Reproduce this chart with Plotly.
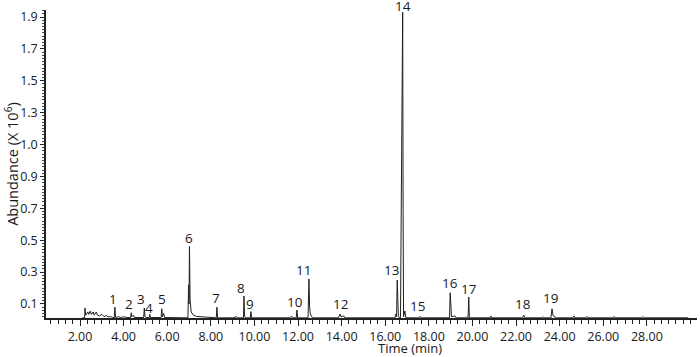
import plotly.graph_objects as go

# Chromatogram trace (time in min, abundance x10^6)
time = [2.10, 2.21, 2.23, 2.26, 2.36, 2.40, 2.47, 2.52, 2.60, 2.65, 2.75, 2.80, 2.90, 3.00, 3.10, 3.20, 3.30, 3.40, 3.50,
        3.57, 3.60, 3.63, 3.75, 3.85, 4.00, 4.15,
        4.32, 4.35, 4.38, 4.45, 4.50,
        4.92, 4.95, 4.98, 5.05,
        5.18, 5.20, 5.23,
        5.72, 5.75, 5.78, 5.84, 5.88, 6.30,
        6.95, 6.98, 7.00, 7.02, 7.05, 7.10, 7.20, 7.35, 7.50, 7.65, 7.80, 8.00,
        8.25, 8.28, 8.31,
        9.00, 9.20, 9.25,
        9.50, 9.52, 9.55, 9.60,
        9.81, 9.84, 9.87,
        11.60, 11.72, 11.76,
        11.92, 11.95, 11.98,
        12.46, 12.50, 12.53, 12.56, 12.62, 12.70,
        13.85, 13.90, 13.93, 13.97, 14.10, 14.15,
        16.45, 16.48, 16.52, 16.55, 16.57, 16.60, 16.64,
        16.70, 16.72, 16.80, 16.82, 16.84, 16.90, 16.92, 16.95,
        17.55, 17.60, 17.65,
        18.95, 18.98, 19.01, 19.04, 19.20, 19.25,
        19.70, 19.75, 19.80, 19.83, 19.86,
        20.80, 20.84, 20.88,
        22.30, 22.35, 22.40,
        23.20, 23.25, 23.30,
        23.60, 23.65, 23.70, 23.80, 23.85,
        24.60, 24.66, 24.70,
        25.20, 25.25, 25.30,
        26.45, 26.50, 26.55,
        27.75, 27.80, 27.90,
        29.90]
abundance = [0.013, 0.013, 0.075, 0.030, 0.050, 0.035, 0.055, 0.035, 0.050, 0.030, 0.050, 0.030, 0.025, 0.035, 0.020, 0.028, 0.018, 0.022, 0.015,
             0.015, 0.080, 0.015, 0.020, 0.015, 0.020, 0.015,
             0.015, 0.045, 0.020, 0.030, 0.015,
             0.015, 0.075, 0.020, 0.015,
             0.015, 0.035, 0.015,
             0.015, 0.070, 0.020, 0.040, 0.015, 0.013,
             0.013, 0.220, 0.100, 0.460, 0.120, 0.050, 0.030, 0.022, 0.020, 0.018, 0.015, 0.013,
             0.013, 0.080, 0.013,
             0.013, 0.020, 0.013,
             0.013, 0.150, 0.020, 0.013,
             0.013, 0.052, 0.013,
             0.013, 0.022, 0.013,
             0.013, 0.062, 0.013,
             0.013, 0.257, 0.085, 0.040, 0.020, 0.013,
             0.013, 0.030, 0.037, 0.020, 0.025, 0.013,
             0.013, 0.035, 0.020, 0.250, 0.146, 0.030, 0.013,
             0.013, 0.420, 1.930, 0.700, 0.020, 0.056, 0.013, 0.013,
             0.013, 0.022, 0.013,
             0.013, 0.170, 0.060, 0.020, 0.025, 0.013,
             0.013, 0.020, 0.013, 0.144, 0.013,
             0.013, 0.025, 0.013,
             0.013, 0.030, 0.013,
             0.013, 0.020, 0.013,
             0.013, 0.070, 0.025, 0.020, 0.013,
             0.013, 0.025, 0.013,
             0.013, 0.022, 0.013,
             0.013, 0.022, 0.013,
             0.013, 0.020, 0.013,
             0.013]

# Peak labels (label 14 sits just above the apex)
peak_labels = [str(i) for i in range(1, 20)]
peak_label_x = [3.51, 4.25, 4.80, 5.17, 5.76, 7.00, 8.24, 9.39, 9.80, 11.86, 12.27, 13.93, 16.30, 16.82, 17.50, 18.97, 19.84, 22.30, 23.60]
peak_label_y = [0.131, 0.100, 0.131, 0.075, 0.131, 0.514, 0.138, 0.200, 0.100, 0.115, 0.313, 0.100, 0.313, 1.930, 0.087, 0.234, 0.194, 0.100, 0.138]

# Axis ticks
x_tickvals = [2, 4, 6, 8, 10, 12, 14, 16, 18, 20, 22, 24, 26, 28]
x_ticktext = ["2.00", "4.00", "6.00", "8.00", "10.00", "12.00", "14.00", "16.00", "18.00", "20.00", "22.00", "24.00", "26.00", "28.00"]
y_tickvals = [0.1, 0.3, 0.5, 0.7, 0.9, 1.1, 1.3, 1.5, 1.7, 1.9]
y_ticktext = ["0.1", "0.3", "0.5", "0.7", "0.9", "1.0", "1.3", "1.5", "1.7", "1.9"]

FONT = "Open Sans"
INK = "#1a1a1a"

fig = go.Figure()
fig.add_trace(go.Scatter(x=time, y=abundance, mode="lines",
                         line=dict(color="#202020", width=1), hoverinfo="skip",
                         showlegend=False))

for lx, ly, lt in zip(peak_label_x, peak_label_y, peak_labels):
    top = (lt == "14")
    fig.add_annotation(x=lx, y=ly, text=lt, showarrow=False, xref="x", yref="y",
                       font=dict(family=FONT, size=13.5, color=INK), borderpad=0,
                       yanchor="bottom" if top else "middle", yshift=-4 if top else 0)

fig.add_annotation(x=0.559, y=-0.098, xref="paper", yref="paper", text="Time (min)",
                   showarrow=False, font=dict(family=FONT, size=13, color=INK), yanchor="middle",
                   borderpad=0)
fig.add_annotation(x=-0.054, y=0.5, xref="paper", yref="paper", text="Abundance (X 10<sup>6</sup>)",
                   showarrow=False, textangle=-90, font=dict(family=FONT, size=14.5, color=INK),
                   xanchor="center", yanchor="middle")

fig.update_layout(
    width=700, height=357,
    margin=dict(l=46, r=3, t=10, b=39),
    plot_bgcolor="white", paper_bgcolor="white",
    font=dict(family=FONT, size=12.5, color=INK),
    xaxis=dict(range=[0.44, 30.3], tickvals=x_tickvals, ticktext=x_ticktext,
               showgrid=False, zeroline=False, showline=True, linecolor="#222", linewidth=1.5,
               ticks="outside", ticklen=6, tickwidth=1, tickcolor="#222",
               tickfont=dict(family=FONT, size=12.5, color=INK),
               minor=dict(dtick=1/3, tick0=0, ticks="outside", ticklen=4, tickcolor="#222", tickwidth=1, showgrid=False)),
    yaxis=dict(range=[0.012, 1.944], tickvals=y_tickvals, ticktext=y_ticktext,
               showgrid=False, zeroline=False, showline=True, linecolor="#222", linewidth=1.5,
               ticks="outside", ticklen=4, tickwidth=1, tickcolor="#222",
               tickfont=dict(family=FONT, size=12.5, color=INK),
               minor=dict(dtick=0.02, tick0=0, ticks="outside", ticklen=2, tickcolor="#444", tickwidth=1, showgrid=False)),
)

fig.write_html("out.html")
